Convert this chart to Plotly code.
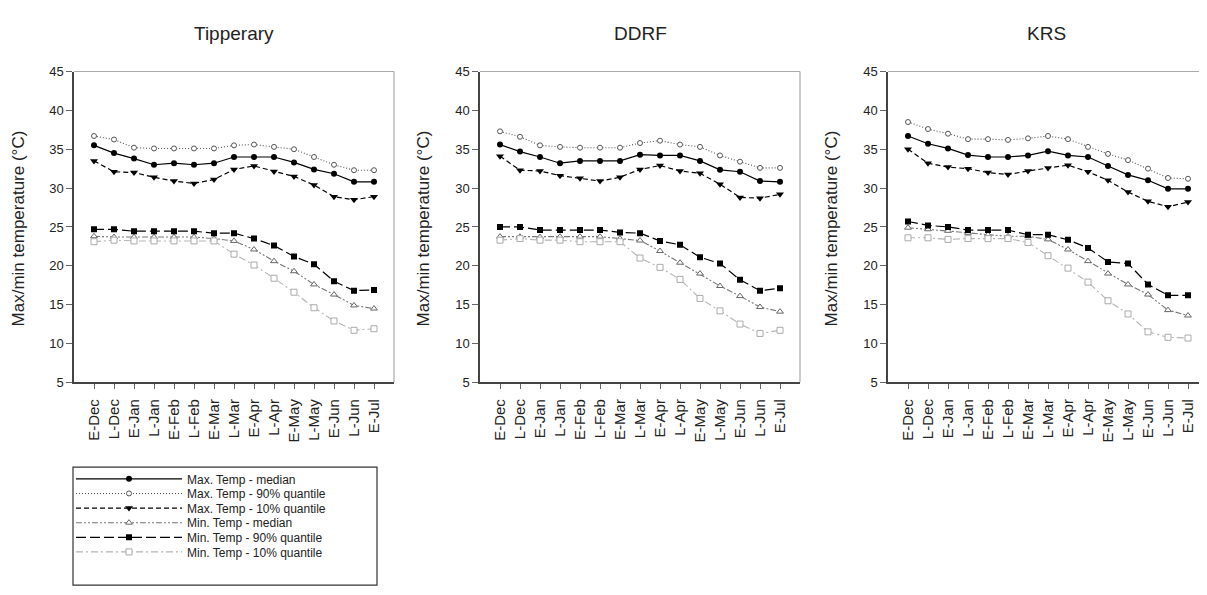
import plotly.graph_objects as go

cats = ["E-Dec", "L-Dec", "E-Jan", "L-Jan", "E-Feb", "L-Feb", "E-Mar", "L-Mar",
        "E-Apr", "L-Apr", "E-May", "L-May", "E-Jun", "L-Jun", "E-Jul"]
sites = ["Tipperary", "DDRF", "KRS"]
series_names = ["Max. Temp - median", "Max. Temp - 90% quantile", "Max. Temp - 10% quantile",
                "Min. Temp - median", "Min. Temp - 90% quantile", "Min. Temp - 10% quantile"]
y_ticks = [5, 10, 15, 20, 25, 30, 35, 40, 45]

# Tipperary
tip_max_med = [35.5, 34.5, 33.8, 33.0, 33.2, 33.0, 33.2, 34.0, 34.0, 34.0, 33.3, 32.4, 31.85, 30.8, 30.8]
tip_max_90 = [36.7, 36.25, 35.2, 35.1, 35.1, 35.1, 35.1, 35.5, 35.6, 35.3, 35.0, 34.0, 33.0, 32.3, 32.3]
tip_max_10 = [33.5, 32.1, 32.0, 31.4, 30.9, 30.6, 31.1, 32.4, 32.85, 32.15, 31.5, 30.4, 28.9, 28.5, 28.9]
tip_min_med = [23.8, 23.7, 23.7, 23.7, 23.7, 23.7, 23.5, 23.2, 22.1, 20.6, 19.3, 17.6, 16.3, 14.9, 14.5]
tip_min_90 = [24.7, 24.7, 24.45, 24.45, 24.45, 24.45, 24.2, 24.2, 23.5, 22.6, 21.2, 20.2, 18.0, 16.8, 16.9]
tip_min_10 = [23.1, 23.3, 23.2, 23.2, 23.2, 23.2, 23.2, 21.5, 20.1, 18.4, 16.6, 14.6, 12.9, 11.7, 11.9]

# DDRF
ddrf_max_med = [35.6, 34.7, 34.0, 33.2, 33.5, 33.5, 33.5, 34.3, 34.2, 34.2, 33.5, 32.35, 32.1, 30.9, 30.8]
ddrf_max_90 = [37.3, 36.6, 35.5, 35.3, 35.2, 35.2, 35.2, 35.8, 36.1, 35.6, 35.3, 34.2, 33.4, 32.6, 32.6]
ddrf_max_10 = [34.1, 32.3, 32.2, 31.6, 31.25, 30.9, 31.4, 32.4, 32.9, 32.2, 31.9, 30.5, 28.8, 28.7, 29.2]
ddrf_min_med = [23.75, 23.75, 23.7, 23.75, 23.75, 23.75, 23.5, 23.25, 21.9, 20.4, 19.0, 17.4, 16.1, 14.7, 14.1]
ddrf_min_90 = [25.0, 25.0, 24.6, 24.6, 24.6, 24.6, 24.3, 24.2, 23.2, 22.7, 21.1, 20.3, 18.2, 16.8, 17.1]
ddrf_min_10 = [23.3, 23.5, 23.3, 23.3, 23.1, 23.1, 23.1, 21.0, 19.8, 18.25, 15.8, 14.2, 12.5, 11.3, 11.7]

# KRS
krs_max_med = [36.7, 35.7, 35.1, 34.25, 34.0, 34.0, 34.2, 34.75, 34.2, 34.0, 32.85, 31.7, 31.0, 29.9, 29.9]
krs_max_90 = [38.5, 37.6, 37.0, 36.3, 36.3, 36.2, 36.4, 36.7, 36.3, 35.3, 34.4, 33.6, 32.5, 31.3, 31.2]
krs_max_10 = [35.0, 33.2, 32.7, 32.5, 32.0, 31.75, 32.2, 32.6, 32.95, 32.1, 31.0, 29.5, 28.3, 27.6, 28.2]
krs_min_med = [24.9, 24.7, 24.5, 24.25, 24.0, 23.8, 23.8, 23.4, 22.1, 20.6, 19.0, 17.6, 16.3, 14.3, 13.6]
krs_min_90 = [25.7, 25.2, 25.0, 24.6, 24.6, 24.6, 24.0, 24.0, 23.35, 22.3, 20.5, 20.3, 17.6, 16.2, 16.2]
krs_min_10 = [23.6, 23.6, 23.4, 23.5, 23.5, 23.5, 23.0, 21.3, 19.7, 17.9, 15.5, 13.8, 11.5, 10.8, 10.7]

site_data = [
    [tip_max_med, tip_max_90, tip_max_10, tip_min_med, tip_min_90, tip_min_10],
    [ddrf_max_med, ddrf_max_90, ddrf_max_10, ddrf_min_med, ddrf_min_90, ddrf_min_10],
    [krs_max_med, krs_max_90, krs_max_10, krs_min_med, krs_min_90, krs_min_10],
]

styles = [
    dict(line=dict(color="#000000", width=1.2, dash="solid"),
         marker=dict(symbol="circle", size=6, color="#000000")),
    dict(line=dict(color="#555555", width=1.1, dash="1px,2px"),
         marker=dict(symbol="circle", size=5, color="#ffffff", line=dict(color="#555555", width=1))),
    dict(line=dict(color="#000000", width=1.2, dash="5px,3px"),
         marker=dict(symbol="triangle-down", size=7, color="#000000")),
    dict(line=dict(color="#777777", width=1.1, dash="6px,2px,2px,2px,2px,2px"),
         marker=dict(symbol="triangle-up", size=6, color="#ffffff", line=dict(color="#666666", width=1))),
    dict(line=dict(color="#000000", width=1.2, dash="10px,4px"),
         marker=dict(symbol="square", size=6, color="#000000")),
    dict(line=dict(color="#b5b5b5", width=1.1, dash="7px,3px,2px,3px"),
         marker=dict(symbol="square", size=6, color="#ffffff", line=dict(color="#aaaaaa", width=1))),
]

# The page body has an 8 px margin: the figure is sized to the window minus it,
# and reference pixel positions are shifted by that offset.
OFF = 8
W, H = 1207 - OFF, 595 - OFF


def px_x(v):
    return (v - OFF) / W


def px_y(v):
    return 1 - (v - OFF) / H


x_domains = [(px_x(74), px_x(394)), (px_x(480), px_x(800)), (px_x(888), min(1.0, px_x(1204)))]
x_ranges = [[-1, 15], [-1, 15], [-1, 14.8]]
y_domain = (px_y(385), px_y(66))
legend_names = ["legend", "legend2", "legend3", "legend4", "legend5", "legend6"]

fig = go.Figure()
for p in range(3):
    xa = "x" if p == 0 else f"x{p + 1}"
    ya = "y" if p == 0 else f"y{p + 1}"
    for s in range(6):
        fig.add_trace(go.Scatter(
            x=cats, y=site_data[p][s], mode="lines+markers",
            name=series_names[s], xaxis=xa, yaxis=ya,
            showlegend=(p == 0), legend=legend_names[s],
            line=styles[s]["line"], marker=styles[s]["marker"],
        ))

font_family = "Liberation Sans, Arial, sans-serif"
layout = dict(
    width=W, height=H, margin=dict(l=0, r=0, t=0, b=0),
    plot_bgcolor="white", paper_bgcolor="white",
    font=dict(family=font_family, color="#222222"),
)
for p in range(3):
    xk = "xaxis" if p == 0 else f"xaxis{p + 1}"
    yk = "yaxis" if p == 0 else f"yaxis{p + 1}"
    ya = "y" if p == 0 else f"y{p + 1}"
    xa = "x" if p == 0 else f"x{p + 1}"
    layout[xk] = dict(
        domain=list(x_domains[p]), anchor=ya, type="category",
        range=x_ranges[p], showgrid=False, zeroline=False,
        showline=True, linecolor="#444444", linewidth=1.5,
        ticks="outside", ticklen=5, tickcolor="#666666",
        tickangle=-90, tickfont=dict(size=15, color="#222222"),
        ticklabelstandoff=4,
        categoryorder="array", categoryarray=cats,
    )
    layout[yk] = dict(
        domain=list(y_domain), anchor=xa, range=[5, 45],
        tickvals=y_ticks, showgrid=False, zeroline=False,
        showline=True, linecolor="#444444", linewidth=1.5,
        ticks="outside", ticklen=6, tickcolor="#666666",
        tickfont=dict(size=13, color="#222222"),
    )

row_y = [484, 499, 514, 529, 544, 559]
for i, ln in enumerate(legend_names):
    layout[ln] = dict(
        x=px_x(71), xanchor="left", y=px_y(row_y[i]), yanchor="middle",
        bgcolor="rgba(0,0,0,0)", borderwidth=0,
        font=dict(size=12, color="#222222", family=font_family),
        itemwidth=106, tracegroupgap=0,
    )
fig.update_layout(**layout)

shapes = []
for p in range(3):
    xa = "x" if p == 0 else f"x{p + 1}"
    ya = "y" if p == 0 else f"y{p + 1}"
    # top and right frame lines (light)
    shapes.append(dict(type="line", xref=f"{xa} domain", yref=f"{ya} domain",
                       x0=0, x1=1, y0=1, y1=1, line=dict(color="#aaaaaa", width=1.2)))
    shapes.append(dict(type="line", xref=f"{xa} domain", yref=f"{ya} domain",
                       x0=1, x1=1, y0=0, y1=1, line=dict(color="#aaaaaa", width=1.2)))
# legend box
shapes.append(dict(type="rect", xref="paper", yref="paper",
                   x0=px_x(73), x1=px_x(377), y0=px_y(593), y1=px_y(472),
                   line=dict(color="#333333", width=1.2)))
fig.update_layout(shapes=shapes)

annotations = []
title_x = [234, 640, 1046]
ytitle_x = [18, 423, 831]
for p in range(3):
    annotations.append(dict(text=sites[p], xref="paper", yref="paper",
                            x=px_x(title_x[p]), y=px_y(27), xanchor="center", yanchor="middle",
                            showarrow=False, font=dict(size=19, color="#222222", family=font_family)))
    annotations.append(dict(text="Max/min temperature (°C)", xref="paper", yref="paper",
                            x=px_x(ytitle_x[p]), y=px_y(227), xanchor="center", yanchor="middle",
                            textangle=-90, showarrow=False,
                            font=dict(size=17, color="#222222", family=font_family)))
fig.update_layout(annotations=annotations)

fig.write_html("out.html", config={"displayModeBar": False})
